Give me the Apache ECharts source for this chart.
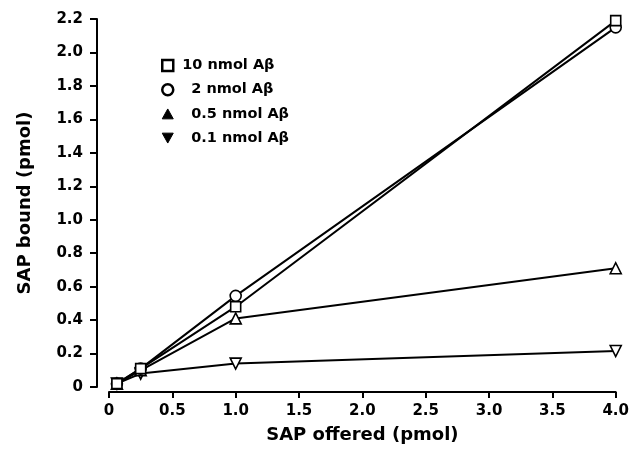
<!DOCTYPE html>
<html>
<head>
<meta charset="utf-8">
<script src="https://cdn.jsdelivr.net/npm/echarts@6/dist/echarts.min.js"></script>
<style>html,body{margin:0;padding:0;background:#fff;}#c{width:632px;height:459px;}</style>
</head>
<body>
<div id="c"></div>
<script>
var sapOffered = [0.0625, 0.25, 1.0, 4.0];
var seriesNames = ['10 nmol A\u03b2', '2 nmol A\u03b2', '0.5 nmol A\u03b2', '0.1 nmol A\u03b2'];
var bound10 = [0.02, 0.11, 0.48, 2.19];
var bound2 = [0.02, 0.11, 0.545, 2.15];
var bound05 = [0.02, 0.10, 0.41, 0.71];
var bound01 = [0.02, 0.08, 0.14, 0.215];
var xTicks = [0, 0.5, 1.0, 1.5, 2.0, 2.5, 3.0, 3.5, 4.0];
var yTicks = [0, 0.2, 0.4, 0.6, 0.8, 1.0, 1.2, 1.4, 1.6, 1.8, 2.0, 2.2];

var FONT = 'DejaVu Sans';
function pairs(ys) { return sapOffered.map(function (x, i) { return [x, ys[i]]; }); }
function fmt(v) { return v === 0 ? '0' : v.toFixed(1); }

var symbols = ['rect', 'circle', 'triangle', 'triangle'];
var rotates = [0, 0, 0, 180];
var sizes = [10, 11, 11, 11];
var allData = [bound10, bound2, bound05, bound01];

var series = allData.map(function (d, i) {
  return {
    name: seriesNames[i],
    type: 'line',
    data: pairs(d),
    symbol: symbols[i],
    symbolSize: sizes[i],
    symbolRotate: rotates[i],
    showAllSymbol: true,
    z: 10 - i,
    lineStyle: { color: '#000', width: 2 },
    itemStyle: { color: '#fff', borderColor: '#000', borderWidth: 1.6 },
    emphasis: { disabled: true },
    animation: false
  };
});

var legendText = { fontFamily: FONT, fontWeight: 'bold', fontSize: 14.5, color: '#000' };

var chart = echarts.init(document.getElementById('c'), null, { renderer: 'canvas' });
chart.setOption({
  backgroundColor: '#fff',
  animation: false,
  grid: { left: 109, right: 15, top: 19, bottom: 72, containLabel: false },
  legend: {
    orient: 'vertical',
    left: 161,
    top: 58,
    padding: 0,
    itemWidth: 11,
    itemHeight: 11,
    itemGap: 9.2,
    selectedMode: false,
    textStyle: {
      fontFamily: FONT, fontWeight: 'bold', fontSize: 14.5, color: '#000',
      rich: {
        a: Object.assign({ padding: [0, 0, 0, 4] }, legendText),
        b: Object.assign({ padding: [0, 0, 0, 13] }, legendText)
      }
    },
    formatter: function (name) { return name.indexOf('10') === 0 ? '{a|' + name + '}' : '{b|' + name + '}'; },
    data: [
      { name: seriesNames[0], icon: 'rect', itemStyle: { color: '#fff', borderColor: '#000', borderWidth: 2.5 } },
      { name: seriesNames[1], icon: 'circle', itemStyle: { color: '#fff', borderColor: '#000', borderWidth: 2.5 } },
      { name: seriesNames[2], icon: 'path://M5,0 L10,9 L0,9 Z', itemStyle: { color: '#000', borderColor: '#000', borderWidth: 1 } },
      { name: seriesNames[3], icon: 'path://M0,0 L10,0 L5,9 Z', itemStyle: { color: '#000', borderColor: '#000', borderWidth: 1 } }
    ]
  },
  xAxis: {
    type: 'value',
    min: xTicks[0],
    max: xTicks[xTicks.length - 1],
    interval: 0.5,
    offset: 5,
    name: 'SAP offered (pmol)',
    nameLocation: 'middle',
    nameGap: 34,
    nameTextStyle: { fontFamily: FONT, fontWeight: 'bold', fontSize: 18, color: '#000' },
    axisLine: { show: true, onZero: false, lineStyle: { color: '#000', width: 2 } },
    axisTick: { show: true, length: 6, lineStyle: { color: '#000', width: 2 } },
    axisLabel: { fontFamily: FONT, fontWeight: 'bold', fontSize: 15, color: '#000', margin: 12, formatter: fmt },
    splitLine: { show: false }
  },
  yAxis: {
    type: 'value',
    min: yTicks[0],
    max: yTicks[yTicks.length - 1],
    interval: 0.2,
    offset: 12,
    name: 'SAP bound (pmol)',
    nameLocation: 'middle',
    nameGap: 63,
    nameTextStyle: { fontFamily: FONT, fontWeight: 'bold', fontSize: 18, color: '#000' },
    axisLine: { show: true, onZero: false, lineStyle: { color: '#000', width: 2 } },
    axisTick: { show: true, length: 7, lineStyle: { color: '#000', width: 2 } },
    axisLabel: { fontFamily: FONT, fontWeight: 'bold', fontSize: 15, color: '#000', margin: 14, formatter: fmt },
    splitLine: { show: false }
  },
  series: series
});
</script>
</body>
</html>
